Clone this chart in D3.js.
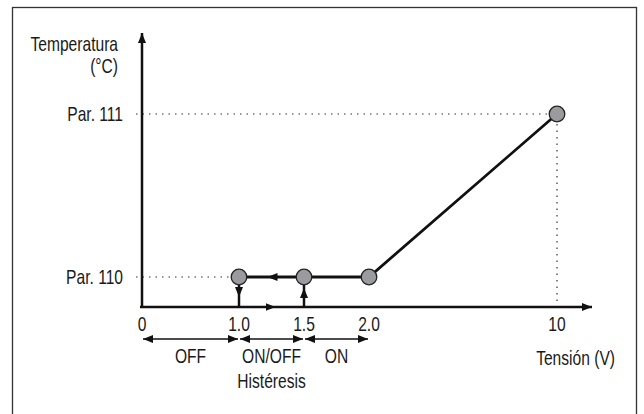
<!DOCTYPE html>
<html>
<head>
<meta charset="utf-8">
<script src="https://cdn.jsdelivr.net/npm/d3@7"></script>
<style>
body{margin:0;background:#fff;}
text{font-family:"Liberation Sans",Arial,sans-serif;fill:#1a1a1a;}
</style>
</head>
<body>
<svg id="graph"></svg>
<script>
var width=644, height=414;

// data
var xTicks=[0,1.0,1.5,2.0,10];
var xTickLabels=["0","1.0","1.5","2.0","10"];
var yLevels=[110,111];
var yLabels=["Par. 110","Par. 111"];
var pointsX=[1.0,1.5,2.0,10];
var pointsY=[110,110,110,111];
var bands=[[0,1.0],[1.0,1.5],[1.5,2.0]];
var bandLabels=["OFF","ON/OFF","ON"];

var fs=20, sx=0.78;   // condensed look
var svg=d3.select("#graph").attr("width",width).attr("height",height);

// broken x scale (the chart is not to scale)
var x=d3.scaleLinear().domain(xTicks).range([142,239,304,369,557]);
var y=d3.scaleLinear().domain([110,111]).range([277,114]);
var x0=x(0), y0=307;

function label(sel,px,py,str,anchor){
    return sel.append("text")
      .attr("transform","translate("+px+","+py+") scale("+sx+",1)")
      .attr("text-anchor",anchor||"middle").attr("font-size",fs).text(str);
}

var defs=svg.append("defs");
defs.append("marker").attr("id","arr")
    .attr("viewBox","0 0 10 8").attr("refX",10).attr("refY",4)
    .attr("markerWidth",10).attr("markerHeight",8).attr("markerUnits","userSpaceOnUse")
    .attr("orient","auto-start-reverse")
    .append("path").attr("d","M0,0 L10,4 L0,8 Z").attr("fill","#111");

// frame
svg.append("rect").attr("x",12.5).attr("y",7.5).attr("width",624).attr("height",420)
   .attr("fill","none").attr("stroke","#333").attr("stroke-width",1.3);

// dotted guides
var g=svg.append("g");
g.selectAll(".hguide").data(yLevels).join("line")
  .attr("x1",136).attr("x2",(d,i)=>i==0?x(1.0)-7:x(10)-7)
  .attr("y1",d=>y(d)).attr("y2",d=>y(d))
  .attr("stroke","#333").attr("stroke-width",1.2).attr("stroke-dasharray","1.5,5");
g.append("line").attr("x1",x(10)).attr("x2",x(10)).attr("y1",y(111)+10).attr("y2",y0-4)
  .attr("stroke","#333").attr("stroke-width",1.2).attr("stroke-dasharray","1.5,5");

// y labels
yLevels.forEach((d,i)=>label(g,123,y(d)+7,yLabels[i],"end"));
label(g,118,51,"Temperatura","end");
label(g,118,73,"(°C)","end");

// axes
g.append("line").attr("x1",x0).attr("x2",x0).attr("y1",y0+1).attr("y2",33)
  .attr("stroke","#111").attr("stroke-width",2.5).attr("marker-end","url(#arr)");
g.append("line").attr("x1",x0-2).attr("x2",592).attr("y1",y0).attr("y2",y0)
  .attr("stroke","#111").attr("stroke-width",2.5).attr("marker-end","url(#arr)");

xTicks.forEach((d,i)=>label(g,x(d),331,xTickLabels[i]));
label(g,615,365,"Tensión (V)","end");

// hysteresis vertical arrows
g.append("line").attr("x1",x(1.0)).attr("x2",x(1.0)).attr("y1",y(110)).attr("y2",y0)
  .attr("stroke","#111").attr("stroke-width",2.5);
g.append("line").attr("x1",x(1.0)).attr("x2",x(1.0)).attr("y1",y(110)+8).attr("y2",y(110)+20)
  .attr("stroke","none").attr("marker-end","url(#arr)");
g.append("line").attr("x1",x(1.5)).attr("x2",x(1.5)).attr("y1",y0-8).attr("y2",y(110)+11)
  .attr("stroke","none").attr("marker-end","url(#arr)");
g.append("line").attr("x1",x(1.5)).attr("x2",x(1.5)).attr("y1",y(110)).attr("y2",y0)
  .attr("stroke","#111").attr("stroke-width",2.5);

// curve
var line=d3.line().x(d=>x(d[0])).y(d=>y(d[1]));
var pts=pointsX.map((d,i)=>[d,pointsY[i]]);
g.append("path").attr("d",line(pts)).attr("fill","none").attr("stroke","#111").attr("stroke-width",2.8);

// direction arrows along paths
g.append("line").attr("x1",x(1.25)+12).attr("x2",x(1.25)-4).attr("y1",y(110)).attr("y2",y(110))
  .attr("stroke","none").attr("marker-end","url(#arr)");
g.append("line").attr("x1",x(1.25)-6).attr("x2",x(1.25)+4).attr("y1",y0).attr("y2",y0)
  .attr("stroke","none").attr("marker-end","url(#arr)");

g.selectAll(".pt").data(pts).join("circle")
  .attr("cx",d=>x(d[0])).attr("cy",d=>y(d[1])).attr("r",7.8)
  .attr("fill","#9a9b9f").attr("stroke","#222").attr("stroke-width",1.3);

// band arrows
var by=339;
g.selectAll(".band").data(bands).join("line")
  .attr("x1",d=>x(d[0])+1).attr("x2",d=>x(d[1])-1).attr("y1",by).attr("y2",by)
  .attr("stroke","#111").attr("stroke-width",1.5)
  .attr("marker-start","url(#arr)").attr("marker-end","url(#arr)");
bands.forEach((d,i)=>label(g,(x(d[0])+x(d[1]))/2,363,bandLabels[i]));
label(g,(x(1.0)+x(1.5))/2,388,"Histéresis");
</script>
</body>
</html>
